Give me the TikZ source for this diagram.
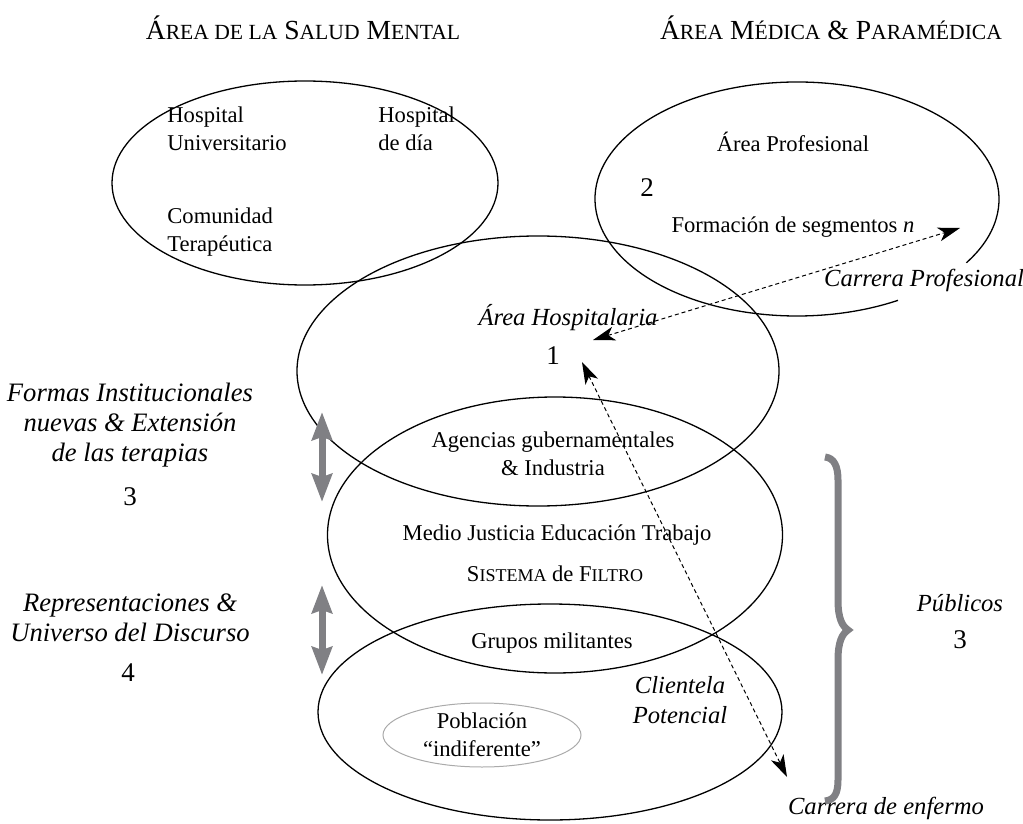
\documentclass[tikz,border=0pt]{standalone}
\usepackage{fontspec}
\setmainfont{Liberation Serif}
\usetikzlibrary{shapes.geometric,arrows.meta,calc}
\definecolor{arrowgray}{RGB}{128,128,132}
\definecolor{pobgray}{RGB}{170,170,170}
\newcommand{\smcx}[1]{{\fontsize{9}{10}\selectfont #1}}
\newcommand{\hsmc}[1]{{\fontsize{10.8}{12}\selectfont #1}}
\begin{document}
\begin{tikzpicture}[x=0.5pt,y=0.5pt,
  ell/.style={ellipse, draw, line width=0.65pt, inner sep=0pt},
  txt/.style={font=\fontsize{11.3}{13.8}\selectfont, align=center, inner sep=0pt},
  lab/.style={font=\fontsize{12.3}{15}\selectfont\itshape, align=center, inner sep=0pt},
  biglab/.style={font=\fontsize{13.3}{15}\selectfont\itshape, align=center, inner sep=0pt},
  num/.style={font=\fontsize{13.5}{15}\selectfont, inner sep=0pt},
  hdr/.style={font=\fontsize{13.8}{16}\selectfont, inner sep=0pt},
  dashy/.style={dash pattern=on 2pt off 1.5pt, line width=0.5pt,
     {Stealth[length=11pt,width=7pt,inset=3pt]}-{Stealth[length=11pt,width=7pt,inset=3pt]}},
  grayarrow/.style={draw=arrowgray, line width=3.5pt,
     {Stealth[length=14pt,width=10pt,inset=1.5pt]}-{Stealth[length=14pt,width=10pt,inset=1.5pt]}},
  bracestyle/.style={draw=arrowgray, line width=3.5pt}]
\useasboundingbox (0,0) rectangle (1023,-824);

% headers
\node[hdr] (hL) at (303,-28) {Á\hsmc{REA DE LA} S\hsmc{ALUD} M\hsmc{ENTAL}};
\node[hdr] (hR) at (831,-28) {Á\hsmc{REA} M\hsmc{ÉDICA} \& P\hsmc{ARAMÉDICA}};

% ellipses
\node[ell, minimum width=193pt, minimum height=102pt] (e1) at (305,-183) {};
\coordinate (c2) at (797,-199);
\draw[line width=0.65pt] ([shift={(c2)}]-33:101pt and 58.5pt)
   arc[start angle=-33, end angle=300, x radius=101pt, y radius=58.5pt];
\node[ell, minimum width=241pt, minimum height=135pt] (e3) at (538,-371) {};
\node[ell, minimum width=227.5pt, minimum height=138pt] (e4) at (555,-535) {};
\node[ell, minimum width=232pt, minimum height=108pt] (e5) at (550,-712) {};
\node[ell, draw=pobgray, line width=0.5pt, minimum width=99pt, minimum height=32pt] (pob) at (482,-735) {};

% texts in ellipse 1
\node[txt, align=left, anchor=west] (hu) at (167,-129) {Hospital\\Universitario};
\node[txt, align=left, anchor=west] (ct) at (167,-232) {Comunidad\\Terapéutica};
\node[txt, align=left, anchor=west] (hd) at (378,-129) {Hospital\\de día};

% ellipse 2
\node[txt] (ap) at (793,-142) {Área Profesional};
\node[num] (n2) at (647,-188) {2};
\node[txt] (fs) at (793,-227) {Formación de segmentos \textit{n}};
\node[lab] (cp) at (924,-280) {Carrera Profesional};
\coordinate (cpT) at (960,-228);

% ellipse 3
\node[lab] (ah) at (568,-318) {Área Hospitalaria};
\node[num] (n1) at (553,-356) {1};
\coordinate (hosp1) at (593,-340);
\coordinate (hosp2) at (582,-362);

% ellipse 4
\node[txt] (ag) at (553,-454) {Agencias gubernamentales\\\& Industria};
\node[txt] (mj) at (557,-535) {Medio Justicia Educación Trabajo};
\node[txt] (sf) at (555,-574) {S\smcx{ISTEMA} de F\smcx{ILTRO}};
\node[txt] (gm) at (552,-643) {Grupos militantes};

% ellipse 5
\node[txt] (pt) at (482,-735) {Población\\“indiferente”};
\node[lab] (cl) at (680,-700) {Clientela\\Potencial};
\node[lab] (ce) at (886,-808) {Carrera de enfermo};
\coordinate (ceT) at (787,-777);

% left labels
\node[biglab] (fi) at (130,-425) {Formas Institucionales\\nuevas \& Extensión\\de las terapias};
\node[num] (n3a) at (130,-497) {3};
\node[biglab] (ru) at (130,-618) {Representaciones \&\\Universo del Discurso};
\node[num] (n4) at (128,-673) {4};

% right labels
\node[lab] (pu) at (960,-603) {Públicos};
\node[num] (n3b) at (960,-640) {3};

% dashed arrows
\draw[dashy] (hosp1) -- (cpT);
\draw[dashy] (hosp2) -- (ceT);

% gray arrows
\coordinate (g1a) at (322,-412);
\coordinate (g1b) at (322,-502);
\coordinate (g2a) at (322,-585);
\coordinate (g2b) at (322,-675);
\draw[grayarrow] (g1a) -- (g1b);
\draw[grayarrow] (g2a) -- (g2b);

% brace
\draw[bracestyle] (825,-457) .. controls (834,-458) and (838,-466) .. (838,-480)
  -- (838,-600) .. controls (838,-618) and (842,-626) .. (848,-630)
  .. controls (842,-634) and (838,-642) .. (838,-660)
  -- (838,-780) .. controls (838,-794) and (834,-800) .. (825,-801);
\end{tikzpicture}
\end{document}
